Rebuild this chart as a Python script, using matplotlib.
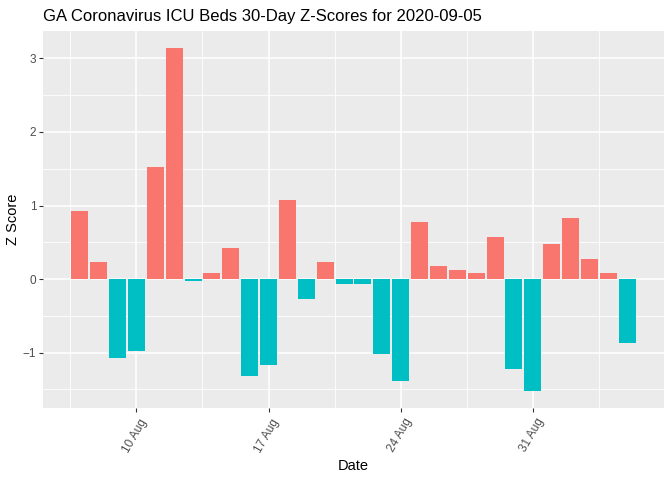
import matplotlib
matplotlib.use("Agg")
import matplotlib.pyplot as plt
import matplotlib.dates as mdates
import matplotlib.transforms as mtransforms
import numpy as np
import pandas as pd

start_date = "2020-08-07"
z_scores = [0.93, 0.23, -1.07, -0.98, 1.53, 3.14, -0.02, 0.08, 0.42, -1.32,
            -1.17, 1.08, -0.27, 0.23, -0.065, -0.065, -1.02, -1.38, 0.78, 0.18,
            0.12, 0.08, 0.57, -1.22, -1.52, 0.48, 0.83, 0.27, 0.08, -0.87]
tick_dates = ["2020-08-10", "2020-08-17", "2020-08-24", "2020-08-31"]
tick_labels = ["10 Aug", "17 Aug", "24 Aug", "31 Aug"]
title = "GA Coronavirus ICU Beds 30-Day Z-Scores for 2020-09-05"

dates = pd.date_range(start_date, periods=len(z_scores), freq="D")
x = mdates.date2num(dates.to_pydatetime())
z = np.array(z_scores)
colors = np.where(z > 0, "#F8766D", "#00BFC4")

plt.rcParams["font.family"] = ["Liberation Sans", "DejaVu Sans"]

fig = plt.figure(figsize=(6.72, 4.80), dpi=100)
ax = fig.add_axes([43 / 672, 1 - 408 / 480, 621 / 672, 377 / 480])
ax.set_facecolor("#EBEBEB")

width = 0.9
ax.bar(x, z, width=width, color=colors, zorder=3)

# ggplot-like expansion (5%)
xlo, xhi = x.min() - width / 2, x.max() + width / 2
xr = xhi - xlo
ax.set_xlim(xlo - 0.05 * xr, xhi + 0.05 * xr)
ylo, yhi = z.min(), z.max()
yr = yhi - ylo
ax.set_ylim(ylo - 0.05 * yr, yhi + 0.05 * yr)

tx = mdates.date2num(pd.to_datetime(tick_dates).to_pydatetime())
ax.set_xticks(tx)
ax.set_xticklabels(tick_labels)
minor_x = np.concatenate([[tx[0] - 3.5], tx + 3.5])
ax.set_xticks(minor_x, minor=True)

ax.set_yticks([-1, 0, 1, 2, 3])
ax.set_yticks([-1.5, -0.5, 0.5, 1.5, 2.5], minor=True)

ax.grid(which="major", color="white", linewidth=1.1, zorder=1)
ax.grid(which="minor", color="white", linewidth=0.6, zorder=1)
ax.set_axisbelow(True)

for s in ax.spines.values():
    s.set_visible(False)

ax.tick_params(which="major", length=2.8, width=0.8, color="#333333",
               labelcolor="#4D4D4D", labelsize=8.5, pad=2)
ax.tick_params(which="minor", length=0)

# nudge rotated labels like ggplot's angle=60, hjust=1
shift = mtransforms.ScaledTranslation(8 / 100, -5 / 100, fig.dpi_scale_trans)
for lab in ax.get_xticklabels():
    lab.set_rotation(60)
    lab.set_rotation_mode("anchor")
    lab.set_ha("right")
    lab.set_va("center")
    lab.set_transform(lab.get_transform() + shift)

ax.set_xlabel("Date", fontsize=10.5, labelpad=3)
ax.set_ylabel("Z Score", fontsize=10.5, labelpad=2)
fig.text(43 / 672, 1 - 16 / 480, title, fontsize=12, va="center", ha="left")

fig.savefig("out.png", dpi=100)
